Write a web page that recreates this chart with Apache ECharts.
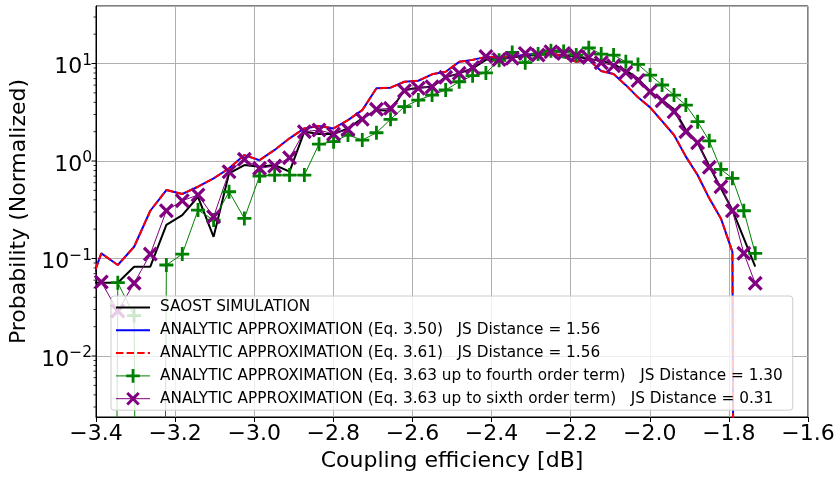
<!DOCTYPE html>
<html>
<head>
<meta charset="utf-8">
<script src="https://cdn.jsdelivr.net/npm/echarts@6/dist/echarts.min.js"></script>
<style>
html,body{margin:0;padding:0;background:#fff;}
#chart{width:840px;height:477px;}
</style>
</head>
<body>
<div id="chart"></div>
<script>
// Bin centres [dB]
const xDb = [-3.4287,-3.3866,-3.3449,-3.3036,-3.2627,-3.2221,-3.1819,-3.1421,-3.1027,-3.0636,
  -3.0249,-2.9865,-2.9484,-2.9107,-2.8733,-2.8362,-2.7994,-2.7630,-2.7268,-2.6910,
  -2.6554,-2.6201,-2.5851,-2.5504,-2.5160,-2.4818,-2.4479,-2.4143,-2.3809,-2.3478,
  -2.3149,-2.2823,-2.2499,-2.2178,-2.1859,-2.1542,-2.1228,-2.0915,-2.0605,-2.0298,
  -1.9992,-1.9689,-1.9387,-1.9088,-1.8791,-1.8496,-1.8202,-1.7911,-1.7622,-1.7334];

// ~zero probability (log axis cannot show 0)
const Z = 1e-30;

const saost = [0.057,0.0565,0.0565,0.0824,0.0824,0.221,0.279,0.430,0.167,0.748,
  0.910,0.874,0.910,0.777,2.0,1.89,1.89,2.16,2.74,3.33,
  3.28,5.35,5.65,5.78,7.22,7.93,8.93,10.9,11.3,11.5,
  12.0,12.2,12.5,12.0,11.8,11.1,10.7,9.8,8.5,7.0,
  5.14,4.22,3.39,2.08,1.54,0.889,0.525,0.314,0.161,0.0824];

const analytic350 = [0.038,0.113,0.0858,0.132,0.309,0.504,0.459,0.545,0.664,0.841,
  1.15,1.02,1.30,1.71,2.16,2.29,2.16,2.63,3.33,5.57,
  5.65,6.50,6.66,7.75,8.24,10.4,10.9,11.7,11.6,11.9,
  12.2,12.7,12.9,11.7,10.4,10.9,8.4,7.8,6.0,4.5,
  3.55,2.57,1.85,1.11,0.718,0.414,0.258,0.117,Z,Z];

const analytic361 = [0.038,0.113,0.0858,0.132,0.309,0.504,0.459,0.545,0.664,0.841,
  1.15,1.02,1.30,1.71,2.16,2.29,2.16,2.63,3.33,5.57,
  5.65,6.50,6.66,7.75,8.24,10.4,10.9,11.7,11.6,11.9,
  12.2,12.7,12.9,11.7,10.4,10.9,8.4,7.8,6.0,4.5,
  3.55,2.57,1.85,1.11,0.718,0.414,0.258,0.117,Z,Z];

const order4 = [null,Z,0.0565,0.026,Z,0.0858,0.111,0.314,0.248,0.484,
  0.258,0.702,0.718,0.718,0.718,1.49,1.58,1.85,1.64,1.95,
  2.68,3.61,4.22,4.75,5.35,6.50,7.5,8.0,10.8,13.0,
  10.2,12.5,13.5,13.3,12.2,14.5,12.5,12.2,10.4,9.8,
  7.62,6.02,4.75,3.75,2.53,1.61,0.822,0.664,0.309,0.113];

const order6 = [0.073,0.0574,0.029,0.0559,0.111,0.309,0.392,0.448,0.268,0.777,
  1.04,0.841,0.889,1.08,2.0,2.08,1.89,2.11,2.68,3.39,
  3.47,5.26,5.57,5.78,7.22,7.93,9.1,11.8,11.0,11.3,
  12.7,12.2,13.2,12.7,12.0,11.5,10.2,9.5,8.1,6.7,
  5.14,4.15,3.20,2.0,1.54,0.861,0.545,0.309,0.113,0.0557];

const seriesNames = [
  'SAOST SIMULATION',
  'ANALYTIC APPROXIMATION (Eq. 3.50)   JS Distance = 1.56',
  'ANALYTIC APPROXIMATION (Eq. 3.61)   JS Distance = 1.56',
  'ANALYTIC APPROXIMATION (Eq. 3.63 up to fourth order term)   JS Distance = 1.30',
  'ANALYTIC APPROXIMATION (Eq. 3.63 up to sixth order term)   JS Distance = 0.31'
];
const seriesColors = ['#000000', '#0000ff', '#ff0000', '#008000', '#800080'];

const yMajorTicks = [0.01, 0.1, 1, 10];
const yMinorTicks = [0.003,0.004,0.005,0.006,0.007,0.008,0.009,
  0.02,0.03,0.04,0.05,0.06,0.07,0.08,0.09,
  0.2,0.3,0.4,0.5,0.6,0.7,0.8,0.9,
  2,3,4,5,6,7,8,9,20,30];

const xMin = -3.4, xMax = -1.6, xStep = 0.2;
const yMin = 0.00237, yMax = 38.9;

const FONT = 'DejaVu Sans';
const PLUS = 'path://M4,0H6V4H10V6H6V10H4V6H0V4H4Z';
const CROSS = 'path://M1.82,9.6L5,6.41L8.18,9.6L9.6,8.18L6.41,5L9.6,1.82L8.18,0.4L5,3.59L1.82,0.4L0.4,1.82L3.59,5L0.4,8.18Z';

const pair = arr => xDb.map((x, i) => [x, arr[i]]);

const tickData = yMajorTicks.map(v => [xMin, v, 1]).concat(yMinorTicks.map(v => [xMin, v, 0]));

const legendData = seriesNames.map((n, i) => i < 3
  ? {name: n, itemStyle: {opacity: 0}}
  : {name: n, lineStyle: {width: 1, color: seriesColors[i]}, itemStyle: {color: seriesColors[i]}});

const chart = echarts.init(document.getElementById('chart'), null, {renderer: 'canvas'});
chart.setOption({
  animation: false,
  backgroundColor: '#fff',
  grid: {left: 96, right: 32, top: 6, bottom: 60, show: true, borderColor: '#000', borderWidth: 1, backgroundColor: 'transparent'},
  xAxis: {
    type: 'value', min: xMin, max: xMax, interval: xStep,
    axisLine: {lineStyle: {color: '#000', width: 1}},
    axisTick: {length: 5, lineStyle: {color: '#000', width: 1}},
    axisLabel: {
      fontSize: 22, color: '#000', fontFamily: FONT, margin: 6,
      formatter: v => (v < 0 ? '\u2212' : '') + Math.abs(v).toFixed(1)
    },
    splitLine: {show: true, lineStyle: {color: '#b0b0b0', width: 1}},
    name: 'Coupling efficiency [dB]', nameLocation: 'middle', nameGap: 31,
    nameTextStyle: {fontSize: 22, color: '#000', fontFamily: FONT}
  },
  yAxis: {
    type: 'log', logBase: 10, min: yMin, max: yMax,
    axisLine: {show: true, lineStyle: {color: '#000', width: 1}},
    axisTick: {show: false},
    axisLabel: {
      fontSize: 22, color: '#000', fontFamily: FONT, margin: 4,
      showMinLabel: false, showMaxLabel: false,
      formatter: v => {
        const e = Math.round(Math.log10(v));
        return '{b|10}{sup|' + (e < 0 ? '\u2212' : '') + Math.abs(e) + '}';
      },
      rich: {
        b: {fontSize: 22, fontFamily: FONT, color: '#000', padding: [8, 0, 0, 0]},
        sup: {fontSize: 15.5, fontFamily: FONT, color: '#000', padding: [0, 0, 6, 0]}
      }
    },
    splitLine: {show: true, lineStyle: {color: '#b0b0b0', width: 1}},
    name: 'Probability (Normalized)', nameLocation: 'middle', nameGap: 59,
    nameTextStyle: {fontSize: 22, color: '#000', fontFamily: FONT}
  },
  legend: {
    orient: 'vertical', left: 111, top: 296,
    data: legendData,
    itemWidth: 34, itemHeight: 17, itemGap: 7.8,
    padding: [4, 10, 4, 4],
    backgroundColor: 'rgba(255,255,255,0.8)',
    borderColor: '#cccccc', borderWidth: 1, borderRadius: 3,
    selectedMode: false,
    textStyle: {fontSize: 15.3, fontFamily: FONT, color: '#000', padding: [0, 0, 0, 5]}
  },
  series: [
    {name: seriesNames[0], type: 'line', data: pair(saost), symbol: 'none',
      lineStyle: {color: seriesColors[0], width: 2}, itemStyle: {color: seriesColors[0]}},
    {name: seriesNames[1], type: 'line', data: pair(analytic350), symbol: 'none',
      lineStyle: {color: seriesColors[1], width: 2}, itemStyle: {color: seriesColors[1]}},
    {name: seriesNames[2], type: 'line', data: pair(analytic361), symbol: 'none',
      lineStyle: {color: seriesColors[2], width: 2, type: [7.4, 3.2]}, itemStyle: {color: seriesColors[2]}},
    {name: seriesNames[3], type: 'line', data: pair(order4), symbol: PLUS, symbolSize: 14, showSymbol: true,
      lineStyle: {color: seriesColors[3], width: 1}, itemStyle: {color: seriesColors[3]}},
    {name: seriesNames[4], type: 'line', data: pair(order6), symbol: CROSS, symbolSize: 15, showSymbol: true,
      lineStyle: {color: seriesColors[4], width: 1}, itemStyle: {color: seriesColors[4]}},
    {type: 'custom', coordinateSystem: 'cartesian2d', data: tickData, clip: false, silent: true, z: 10,
      renderItem: (params, api) => {
        const p = api.coord([api.value(0), api.value(1)]);
        const major = api.value(2) === 1;
        const len = major ? 4.5 : 2.5;
        return {type: 'line', shape: {x1: p[0] - len, y1: p[1], x2: p[0], y2: p[1]},
          style: {stroke: '#000', lineWidth: major ? 1 : 0.8}};
      }}
  ]
});
</script>
</body>
</html>
